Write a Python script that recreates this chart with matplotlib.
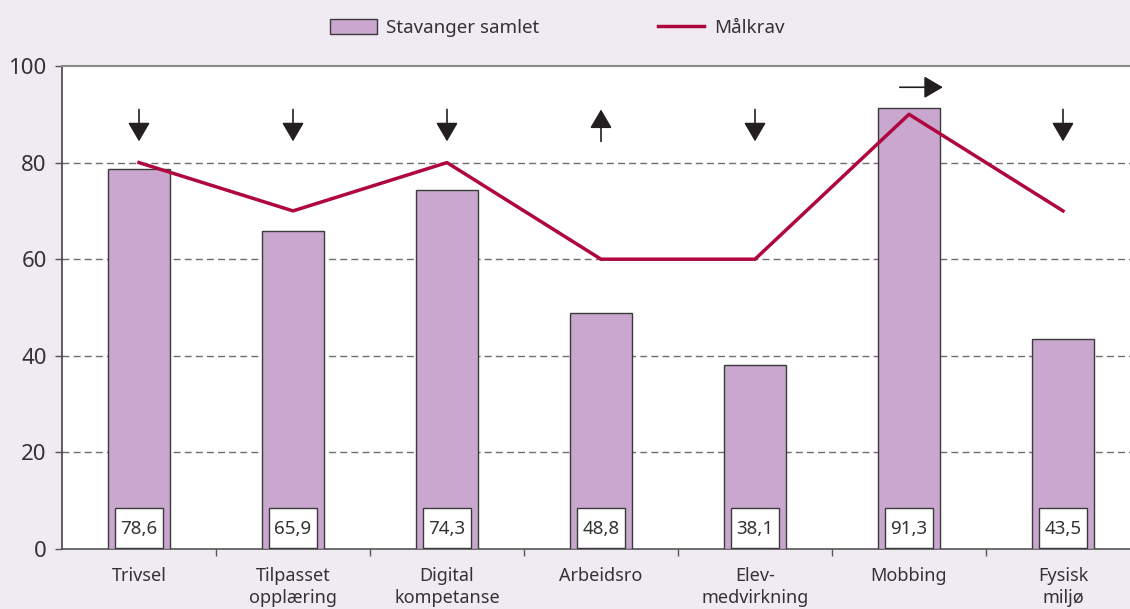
"""Stavanger samlet mot målkrav, med pil for utvikling."""
import matplotlib
matplotlib.use("Agg")
import matplotlib.pyplot as plt
from matplotlib.patches import Rectangle

kategorier = ["Trivsel", "Tilpasset\nopplæring", "Digital\nkompetanse", "Arbeidsro",
              "Elev-\nmedvirkning", "Mobbing", "Fysisk\nmiljø"]
samlet = [78.6, 65.9, 74.3, 48.8, 38.1, 91.3, 43.5]
maalkrav = [80, 70, 80, 60, 60, 90, 70]
piler = ["ned", "ned", "ned", "opp", "ned", "hoeyre", "ned"]

BAKGRUNN = "#F0EBF3"
LILLA = "#C9A7CF"
ROED = "#B0063F"
MOERK = "#231F20"

plt.rcParams["font.family"] = ["Noto Sans", "DejaVu Sans"]

fig = plt.figure(figsize=(11.3, 6.09), dpi=100, facecolor=BAKGRUNN)
ax = fig.add_axes([62 / 1130, 60 / 609, 1078 / 1130, 483 / 609])
ax.set_facecolor("white")

x = list(range(len(kategorier)))
soeyler = ax.bar(x, samlet, width=0.4, color=LILLA, edgecolor="#3a3a3a", lw=1.0,
                 zorder=3, label="Stavanger samlet")
linje, = ax.plot(x, maalkrav, color=ROED, lw=2.5, zorder=4, label="Målkrav")

# verdibokser nederst i søylene
for xi, v in zip(x, samlet):
    ax.add_patch(Rectangle((xi - 0.153, 0.2), 0.306, 8.2, facecolor="white",
                           edgecolor="#3a3a3a", lw=1.0, zorder=5))
    ax.text(xi, 4.2, f"{v:.1f}".replace(".", ","), ha="center", va="center",
            fontsize=13.5, color="#333333", zorder=6)

# piler over søylene
pil = dict(arrowstyle="-|>,head_length=0.58,head_width=0.34", lw=1.2, color=MOERK,
           mutation_scale=20, shrinkA=0, shrinkB=0)
for xi, retning in zip(x, piler):
    if retning == "ned":
        ax.annotate("", xy=(xi, 84.4), xytext=(xi, 91.0), arrowprops=pil, zorder=6)
    elif retning == "opp":
        ax.annotate("", xy=(xi, 91.0), xytext=(xi, 84.4), arrowprops=pil, zorder=6)
    else:
        ax.annotate("", xy=(xi + 0.22, 95.6), xytext=(xi - 0.06, 95.6), arrowprops=pil,
                    zorder=6)

ax.set_xlim(-0.5, 6.5)
ax.set_ylim(0, 100)
ax.set_yticks([0, 20, 40, 60, 80, 100])
ax.set_xticks(x)
ax.set_xticklabels(kategorier, fontsize=13, color="#333333", linespacing=1.3)
ax.set_xticks([i + 0.5 for i in x[:-1]], minor=True)
ax.tick_params(axis="x", which="major", length=0, pad=13)
ax.tick_params(axis="x", which="minor", length=5, width=1.0, color="#555555")
ax.tick_params(axis="y", length=5, width=1.0, color="#555555", labelsize=16,
               labelcolor="#333333", pad=6)

for y in [20, 40, 60, 80]:
    ax.axhline(y, color="#6e6e6e", lw=1.0, ls=(0, (5, 3)), zorder=1)
ax.spines["top"].set_color("#8a8a8a")
ax.spines["top"].set_linewidth(1.5)
ax.spines["right"].set_visible(False)
ax.spines["left"].set_color("#444444")
ax.spines["bottom"].set_color("#555555")
ax.spines["left"].set_linewidth(1.2)
ax.spines["bottom"].set_linewidth(1.2)

fig.legend(handles=[soeyler, linje], loc="center left",
           bbox_to_anchor=(313 / 1130, 1 - 28 / 609), ncol=2,
           frameon=False, fontsize=13.5, handlelength=2.5, handleheight=0.9,
           columnspacing=6.3, handletextpad=0.5, labelcolor="#333333")

fig.savefig("out.png", dpi=100, facecolor=BAKGRUNN)
